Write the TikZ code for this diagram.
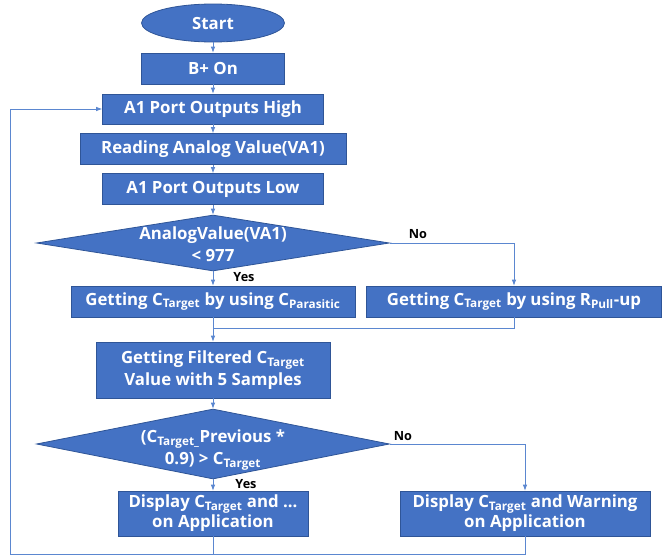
\documentclass[tikz,border=0pt]{standalone}
\usepackage{fontspec}
\setmainfont{Open Sans}
\usetikzlibrary{shapes.geometric,arrows.meta}
\definecolor{fillc}{HTML}{4472C4}
\definecolor{bdr}{HTML}{2F5597}
\definecolor{linec}{HTML}{5B87D0}
\begin{document}
\begin{tikzpicture}[x=0.75pt,y=-0.75pt,
  box/.style={draw=bdr,line width=0.6pt,fill=fillc,text=white,font=\fontsize{12.6}{16}\selectfont\bfseries,align=center,inner sep=0pt},
  diam/.style={draw=bdr,line width=0.6pt,fill=fillc,diamond,inner sep=0pt},
  dtext/.style={text=white,font=\fontsize{12.6}{16.5}\selectfont\bfseries,align=center,inner sep=0pt},
  lbl/.style={text=black,font=\fontsize{9.5}{11}\selectfont\bfseries,inner sep=0pt},
  conn/.style={draw=linec,line width=0.6pt},
  arr/.style={conn,-{Latex[length=4.5pt,width=3.5pt]}}]
\useasboundingbox (0,0) rectangle (662,557);
\node[box,ellipse,minimum width=143*0.75pt,minimum height=38*0.75pt] (start) at (213,23) {Start};
\node[box,minimum width=143*0.75pt,minimum height=31*0.75pt] (bon) at (213,68.5) {B+ On};
\node[box,minimum width=221*0.75pt,minimum height=30*0.75pt] (a1h) at (213,109) {A1 Port Outputs High};
\node[box,minimum width=266*0.75pt,minimum height=31*0.75pt] (read) at (213,149) {Reading Analog Value(VA1)};
\node[box,minimum width=221*0.75pt,minimum height=31*0.75pt] (a1l) at (213,189) {A1 Port Outputs Low};
\node[diam,minimum width=353*0.75pt,minimum height=56*0.75pt] (d1) at (213,243) {};
\node[dtext] (d1t) at (213,244) {AnalogValue(VA1)\\ {<} 977};
\node[box,minimum width=284*0.75pt,minimum height=31*0.75pt] (g1) at (213,301.5) {Getting C\textsubscript{Target} by using C\textsubscript{Parasitic}};
\node[box,minimum width=295*0.75pt,minimum height=31*0.75pt] (g2) at (514,301.5) {Getting C\textsubscript{Target} by using R\textsubscript{Pull}-up};
\node[box,minimum width=234*0.75pt,minimum height=56*0.75pt] (filt) at (213,370) {Getting Filtered C\textsubscript{Target}\\ Value with 5 Samples};
\node[diam,minimum width=353*0.75pt,minimum height=70*0.75pt] (d2) at (213,444) {};
\node[dtext] (d2t) at (213,450) {(C\textsubscript{Target\_}Previous *\\ 0.9) {>} C\textsubscript{Target}};
\node[box,font=\fontsize{12.6}{15}\selectfont\bfseries,minimum width=190*0.75pt,minimum height=45*0.75pt] (disp1) at (213,513.5) {Display C\textsubscript{Target} and ...\\ on Application};
\node[box,font=\fontsize{12.6}{15}\selectfont\bfseries,minimum width=250*0.75pt,minimum height=45*0.75pt] (disp2) at (525,513.5) {Display C\textsubscript{Target} and Warning\\ on Application};
\node[lbl] (no1) at (418,234) {No};
\node[lbl] (yes1) at (244,277) {Yes};
\node[lbl] (no2) at (403,436) {No};
\node[lbl] (yes2) at (246,484) {Yes};
\coordinate (m) at (213,328);
\coordinate (lp) at (10,554);
\draw[arr] (start) -- (bon);
\draw[arr] (bon) -- (a1h);
\draw[arr] (a1h) -- (read);
\draw[arr] (read) -- (a1l);
\draw[arr] (a1l) -- (d1.north);
\draw[arr] (d1.south) -- (g1);
\draw[arr] (d1.east) -| (g2.north);
\draw[arr] (g1) -- (filt);
\draw[conn] (g2.south) |- (m);
\draw[arr] (filt) -- (d2.north);
\draw[arr] (d2.south) -- (disp1);
\draw[arr] (d2.east) -| (disp2.north);
\draw[conn] (disp1.south) -- (disp1.south |- lp);
\draw[arr] (disp2.south) |- (lp) |- (a1h.west);
\end{tikzpicture}
\end{document}
